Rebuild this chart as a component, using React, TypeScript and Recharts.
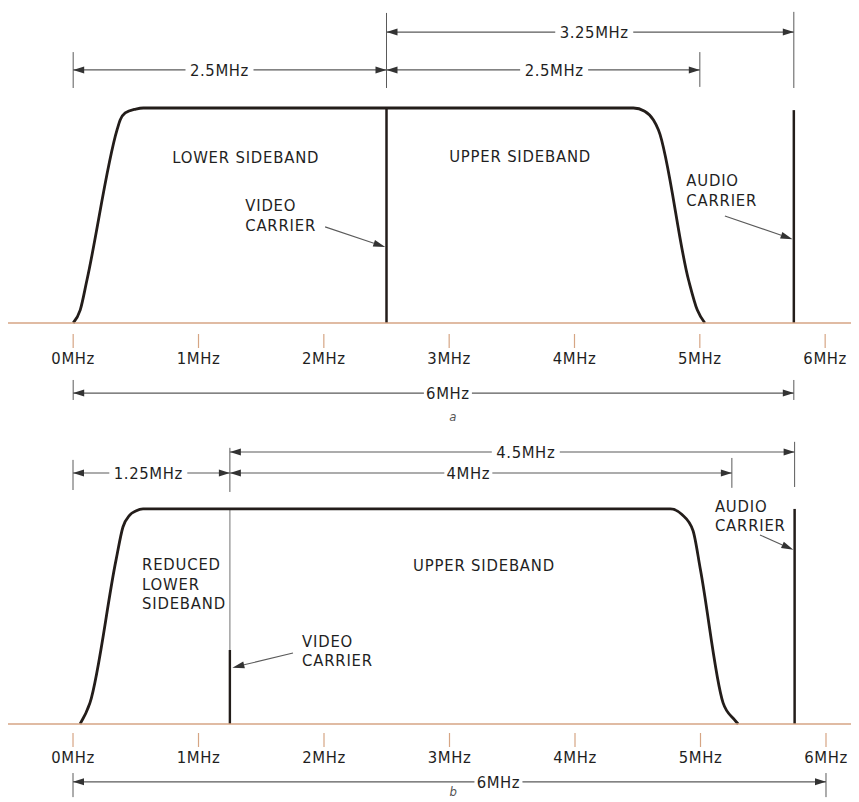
import React from 'react';
import { ComposedChart, Line, XAxis, YAxis, ReferenceLine, ReferenceDot } from 'recharts';

const FONT = "'Liberation Sans Narrow', 'DejaVu Sans Condensed', 'Arial Narrow', sans-serif";
const INK = '#231d1a';
const DIM = '#5a5a5a';
const ARROW = '#333';
const BASE = '#d6a584';
const TEXT = '#1f1f1f';

const FREQ_TICKS = [0, 1, 2, 3, 4, 5, 6];

// panel a: full double sideband
const bandAFreq = [0, 0.056, 0.11, 0.35, 0.375, 0.415, 0.5, 0.56, 4.47, 4.56, 4.63, 4.67, 4.91, 4.98, 5.04];
const bandAAmp = [0, 0.06, 0.2, 0.898, 0.944, 0.977, 0.995, 1, 1, 0.985, 0.944, 0.898, 0.2, 0.06, 0];

// panel b: vestigial lower sideband
const bandBFreq = [0.056, 0.135, 0.343, 0.398, 0.45, 0.5, 0.558, 4.76, 4.85, 4.94, 5.0, 5.18, 5.27, 5.3];
const bandBAmp = [0, 0.098, 0.763, 0.916, 0.97, 0.99, 1, 1, 0.975, 0.9, 0.716, 0.098, 0.02, 0];

const VIDEO_A = 2.5;
const AUDIO_A = 5.75;
const VIDEO_B = 1.25;
const AUDIO_B = 5.75;

const dimFromA = [0, 2.5, 2.5, 0];
const dimToA = [2.5, 5.75, 5, 5.75];
const dimLabelA = ['2.5MHz', '3.25MHz', '2.5MHz', '6MHz'];

const dimFromB = [0, 1.25, 1.25, 0];
const dimToB = [1.25, 5.25, 5.75, 6];
const dimLabelB = ['1.25MHz', '4MHz', '4.5MHz', '6MHz'];

const toRows = (fs: number[], as: number[]) => fs.map((f, i) => ({ f, a: as[i] }));
const bandA = toRows(bandAFreq, bandAAmp);
const bandB = toRows(bandBFreq, bandBAmp);

const textStyle = { fontFamily: FONT, fontSize: 16.5, letterSpacing: 0.8, fill: TEXT } as const;

function FreqTick({ x, y, payload, gap, drop }: any) {
  return (
    <g>
      <line x1={x} x2={x} y1={y + gap} y2={y + gap + 14} stroke={BASE} strokeWidth={1.2} />
      <text x={x} y={y + drop} textAnchor="middle" style={{ ...textStyle, letterSpacing: 0.6 }}>
        {payload.value}MHz
      </text>
    </g>
  );
}

function DimShape({ x1, y1, x2, text, at }: any) {
  const y = y1;
  const left = Math.min(x1, x2);
  const right = Math.max(x1, x2);
  const cx = left + (right - left) * at;
  const w = text.length * 10 + 8;
  return (
    <g>
      <line x1={left} y1={y} x2={cx - w / 2} y2={y} stroke={DIM} strokeWidth={1.1} />
      <line x1={cx + w / 2} y1={y} x2={right} y2={y} stroke={DIM} strokeWidth={1.1} />
      <polygon points={`${left},${y} ${left + 11},${y - 3.5} ${left + 11},${y + 3.5}`} fill={ARROW} />
      <polygon points={`${right},${y} ${right - 11},${y - 3.5} ${right - 11},${y + 3.5}`} fill={ARROW} />
      <text x={cx} y={y + 6} textAnchor="middle" style={{ ...textStyle, letterSpacing: 0.6 }}>
        {text}
      </text>
    </g>
  );
}

function PointerShape({ x1, y1, x2, y2 }: any) {
  const dx = x2 - x1;
  const dy = y2 - y1;
  const len = Math.hypot(dx, dy) || 1;
  const ux = dx / len;
  const uy = dy / len;
  const L = 12;
  const W = 3.5;
  const bx = x2 - ux * L;
  const by = y2 - uy * L;
  return (
    <g>
      <line x1={x1} y1={y1} x2={bx} y2={by} stroke={DIM} strokeWidth={1.1} />
      <polygon points={`${x2},${y2} ${bx - uy * W},${by + ux * W} ${bx + uy * W},${by - ux * W}`} fill={ARROW} />
    </g>
  );
}

function Caption({ cx, cy, lines, step = 20, style }: any) {
  return (
    <text x={cx} y={cy} style={{ ...textStyle, ...style }}>
      {lines.map((l: string, i: number) => (
        <tspan key={i} x={cx} y={cy + i * step}>
          {l}
        </tspan>
      ))}
    </text>
  );
}

const cap = (x: number, y: number, lines: string[], step?: number, style?: any) => (
  <ReferenceDot
    key={lines.join('-') + x}
    x={x}
    y={y}
    r={0}
    ifOverflow="visible"
    shape={(p: any) => <Caption cx={p.cx} cy={p.cy} lines={lines} step={step} style={style} />}
  />
);

const seg = (key: string, fx1: number, ay1: number, fx2: number, ay2: number, stroke: string, width: number) => (
  <ReferenceLine
    key={key}
    segment={[{ x: fx1, y: ay1 }, { x: fx2, y: ay2 }]}
    stroke={stroke}
    strokeWidth={width}
    ifOverflow="visible"
  />
);

const dim = (key: string, from: number, to: number, level: number, text: string, at: number) => (
  <ReferenceLine
    key={key}
    segment={[{ x: from, y: level }, { x: to, y: level }]}
    ifOverflow="visible"
    shape={(p: any) => <DimShape {...p} text={text} at={at} />}
  />
);

const pointer = (key: string, fx1: number, ay1: number, fx2: number, ay2: number) => (
  <ReferenceLine
    key={key}
    segment={[{ x: fx1, y: ay1 }, { x: fx2, y: ay2 }]}
    ifOverflow="visible"
    shape={(p: any) => <PointerShape {...p} />}
  />
);

const figLabel = { fontSize: 13, fontStyle: 'italic', fill: '#555', letterSpacing: 0 };

function PanelA() {
  const levels = [1.177, 1.353, 1.177, -0.326];
  const at = [0.467, 0.51, 0.535, 0.52];
  return (
    <ComposedChart width={851} height={422} data={bandA} margin={{ top: 0, right: 0, bottom: 0, left: 0 }}>
      <XAxis
        type="number"
        dataKey="f"
        domain={[-0.52, 6.27]}
        ticks={FREQ_TICKS}
        interval={0}
        height={107}
        axisLine={{ stroke: BASE, strokeWidth: 1.5 }}
        tickLine={false}
        tickSize={0}
        tickMargin={0}
        tick={(p: any) => <FreqTick {...p} gap={11} drop={41} />}
      />
      <YAxis type="number" domain={[0, 1.465]} hide />
      {/* extension lines */}
      {seg('ea0', 0, 1.26, 0, 1.093, DIM, 1)}
      {seg('ea1', VIDEO_A, 1.442, VIDEO_A, 1.093, DIM, 1)}
      {seg('ea2', 5, 1.26, 5, 1.098, DIM, 1)}
      {seg('ea3', AUDIO_A, 1.447, AUDIO_A, 1.093, DIM, 1)}
      {seg('ea4', 0, -0.265, 0, -0.358, DIM, 1)}
      {seg('ea5', AUDIO_A, -0.265, AUDIO_A, -0.358, DIM, 1)}
      {dimFromA.map((f, i) => dim('da' + i, f, dimToA[i], levels[i], dimLabelA[i], at[i]))}
      {/* carriers */}
      {seg('va', VIDEO_A, 0, VIDEO_A, 1, INK, 2.5)}
      {seg('aa', AUDIO_A, 0, AUDIO_A, 0.99, INK, 2.5)}
      <Line dataKey="a" type="monotone" stroke={INK} strokeWidth={2.8} dot={false} isAnimationActive={false} />
      {pointer('pa1', 2.01, 0.447, 2.49, 0.353)}
      {pointer('pa2', 5.2, 0.498, 5.74, 0.39)}
      {cap(0.79, 0.744, ['LOWER SIDEBAND'])}
      {cap(3.0, 0.749, ['UPPER SIDEBAND'])}
      {cap(1.373, 0.521, ['VIDEO', 'CARRIER'])}
      {cap(4.892, 0.637, ['AUDIO', 'CARRIER'])}
      {cap(3.0, -0.456, ['a'], 20, figLabel)}
    </ComposedChart>
  );
}

function PanelB() {
  const levels = [1.167, 1.167, 1.265, -0.269];
  const at = [0.48, 0.475, 0.524, 0.565];
  return (
    <ComposedChart width={851} height={372} data={bandB} margin={{ top: 0, right: 0, bottom: 0, left: 0 }}>
      <XAxis
        type="number"
        dataKey="f"
        domain={[-0.518, 6.263]}
        ticks={FREQ_TICKS}
        interval={0}
        height={78}
        axisLine={{ stroke: BASE, strokeWidth: 1.5 }}
        tickLine={false}
        tickSize={0}
        tickMargin={0}
        tick={(p: any) => <FreqTick {...p} gap={9} drop={39} />}
      />
      <YAxis type="number" domain={[0, 1.367]} hide />
      {seg('eb0', 0, 1.228, 0, 1.088, DIM, 1)}
      {seg('eb1', VIDEO_B, 1.284, VIDEO_B, 1.079, DIM, 1)}
      {seg('eb2', 5.25, 1.237, 5.25, 1.098, DIM, 1)}
      {seg('eb3', AUDIO_B, 1.312, AUDIO_B, 1.102, DIM, 1)}
      {seg('eb4', 0, -0.228, 0, -0.34, DIM, 1)}
      {seg('eb5', 6, -0.228, 6, -0.34, DIM, 1)}
      {dimFromB.map((f, i) => dim('db' + i, f, dimToB[i], levels[i], dimLabelB[i], at[i]))}
      {seg('vb1', VIDEO_B, 0.344, VIDEO_B, 1, '#9a9a9a', 1.4)}
      {seg('vb2', VIDEO_B, 0, VIDEO_B, 0.344, INK, 2.4)}
      {seg('ab', AUDIO_B, 0, AUDIO_B, 1, INK, 2.5)}
      <Line dataKey="a" type="monotone" stroke={INK} strokeWidth={2.8} dot={false} isAnimationActive={false} />
      {pointer('pb1', 1.753, 0.33, 1.27, 0.262)}
      {pointer('pb2', 5.474, 0.879, 5.74, 0.81)}
      {cap(0.55, 0.716, ['REDUCED', 'LOWER', 'SIDEBAND'], 19.5)}
      {cap(2.71, 0.711, ['UPPER SIDEBAND'])}
      {cap(1.825, 0.358, ['VIDEO', 'CARRIER'], 19)}
      {cap(5.115, 0.986, ['AUDIO', 'CARRIER'], 19)}
      {cap(3.0, -0.335, ['b'], 20, figLabel)}
    </ComposedChart>
  );
}

export default function App() {
  return (
    <div style={{ width: 851, background: '#fff' }}>
      <PanelA />
      <PanelB />
    </div>
  );
}
